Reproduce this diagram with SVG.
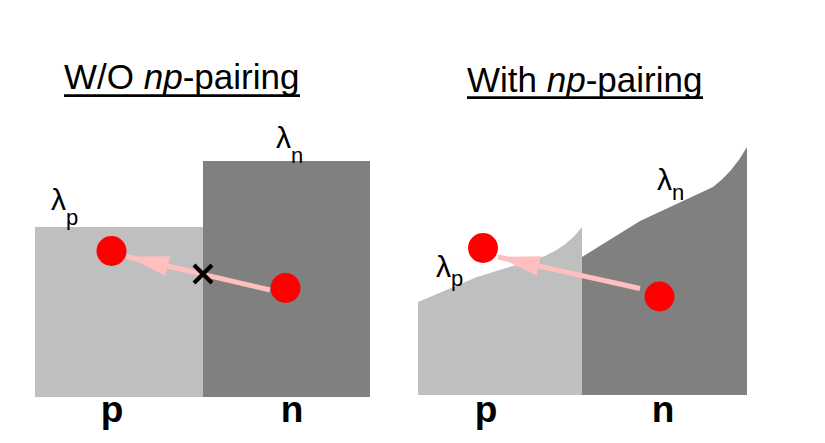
<svg xmlns="http://www.w3.org/2000/svg" width="825" height="443" viewBox="0 0 825 443">
<style>
.title{font-family:"Liberation Sans",Arial,sans-serif;font-size:35px;fill:#000}
.lab{font-family:"Liberation Sans",Arial,sans-serif;font-size:37px;font-weight:bold;fill:#000;text-anchor:middle}
.lam{font-family:"Liberation Sans",Arial,sans-serif;font-size:30px;fill:#000}
.sub{font-size:22px}
.light{fill:#BFBFBF}
.dark{fill:#808080}
.dot{fill:#FF0000}
.arrow{stroke:#FFBFBF;stroke-width:5;fill:none;marker-end:url(#head)}
.ul{stroke:#000;stroke-width:2.8}
</style>
<defs>
<marker id="head" viewBox="0 0 42 20" refX="42" refY="10" markerWidth="42" markerHeight="20" markerUnits="userSpaceOnUse" orient="auto">
<path d="M0,0 L42,10 L0,20 Z" fill="#FFBFBF"/>
</marker>
</defs>
<rect width="825" height="443" fill="#fff"/>

<g id="title-left">
<text class="title" x="64" y="89">W/O <tspan font-style="italic">np</tspan>-pairing</text>
<line class="ul" x1="64" y1="95.7" x2="300" y2="95.7"/>
</g>
<g id="title-right">
<text class="title" x="467" y="92">With <tspan font-style="italic">np</tspan>-pairing</text>
<line class="ul" x1="467" y1="97.7" x2="703" y2="97.7"/>
</g>

<g id="left-p-region"><rect class="light" x="35" y="227" width="168" height="170"/></g>
<g id="left-n-region"><rect class="dark" x="203" y="161" width="167" height="236"/></g>

<g id="right-p-region"><path class="light" d="M418,302 L477,277 L545,256 Q568,246 582,227 L582,395 L418,395 Z"/></g>
<g id="right-n-region"><path class="dark" d="M582,257 L640,221 L713,187 Q733,172 747,147 L747,395 L582,395 Z"/></g>

<g id="connectors">
<line class="arrow" x1="270" y1="290" x2="127" y2="256.5"/>
<line class="arrow" x1="640" y1="288.5" x2="498" y2="257"/>
</g>

<g id="cross">
<path d="M194,265 L212,283 M212,265 L194,283" stroke="#000" stroke-width="4.2" fill="none"/>
</g>

<g id="left-p-dot"><circle class="dot" cx="111.5" cy="251" r="15"/></g>
<g id="left-n-dot"><circle class="dot" cx="285.5" cy="288" r="15"/></g>
<g id="right-p-dot"><circle class="dot" cx="483" cy="248" r="15"/></g>
<g id="right-n-dot"><circle class="dot" cx="659.5" cy="296.5" r="15"/></g>

<g id="lambda-p-left"><text class="lam" x="51" y="210">λ<tspan class="sub" dy="15">p</tspan></text></g>
<g id="lambda-n-left"><text class="lam" x="276" y="148">λ<tspan class="sub" dy="15">n</tspan></text></g>
<g id="lambda-p-right"><text class="lam" x="436" y="277">λ<tspan class="sub" dy="9">p</tspan></text></g>
<g id="lambda-n-right"><text class="lam" x="657" y="190">λ<tspan class="sub" dy="10">n</tspan></text></g>

<g id="label-p-left"><text class="lab" x="112" y="422">p</text></g>
<g id="label-n-left"><text class="lab" x="292" y="422">n</text></g>
<g id="label-p-right"><text class="lab" x="486" y="422">p</text></g>
<g id="label-n-right"><text class="lab" x="663" y="422">n</text></g>
</svg>
